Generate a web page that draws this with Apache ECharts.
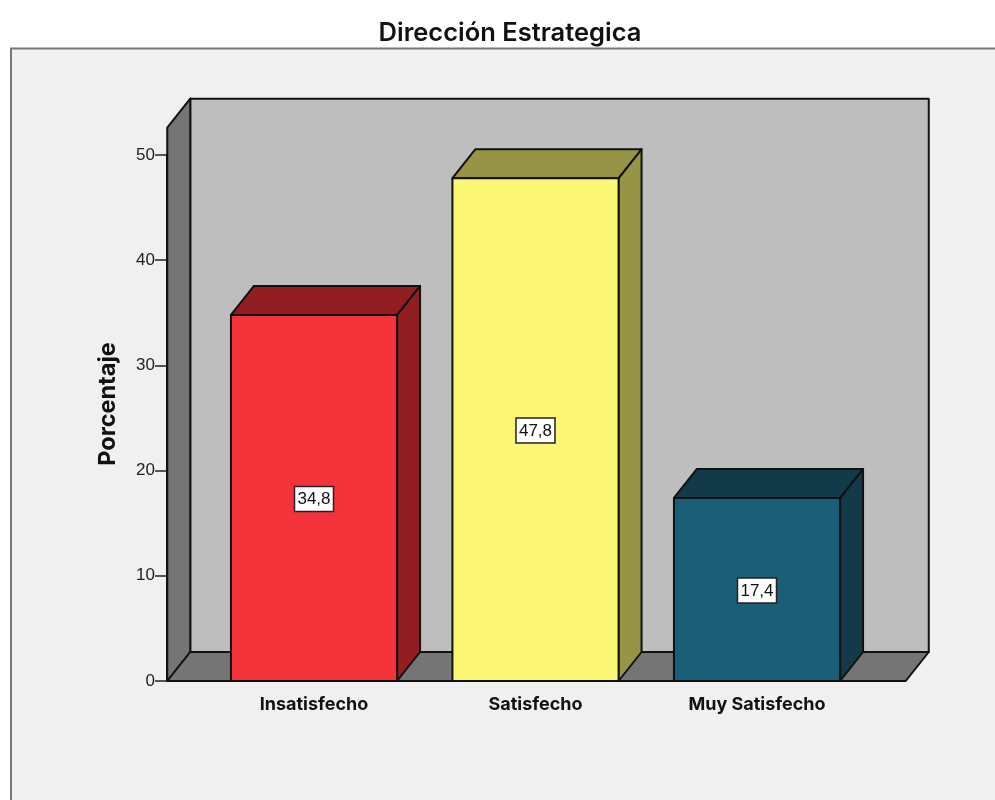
<!DOCTYPE html>
<html>
<head>
<meta charset="utf-8">
<style>html,body{margin:0;padding:0;background:#fff}#c{width:995px;height:800px}</style>
<script src="https://cdn.jsdelivr.net/npm/echarts@6/dist/echarts.min.js"></script>
</head>
<body>
<div id="c"></div>
<script>
const titleText = 'Dirección Estrategica';
const axisTitle = 'Porcentaje';
const categories = ['Insatisfecho', 'Satisfecho', 'Muy Satisfecho'];
const percentages = [34.8, 47.8, 17.4];
const frontColors = ['#f33339', '#fbf674', '#1b5e78'];
const shadeColors = ['#921e22', '#989445', '#123a48'];
const wallCeiling = 52.6;

const font = '"Liberation Sans", Arial, sans-serif';
const wideFont = 'Inter, "Liberation Sans", sans-serif';
const ink = '#111111';
const depthX = 23, depthY = 29;
const barShare = 0.75;
const floorLeftGap = 36, floorRightGap = 38;

function poly(points, fill) {
  return { type: 'polygon', shape: { points }, style: { fill, stroke: ink, lineWidth: 2, lineJoin: 'round' } };
}

// Side wall, back wall and floor of the box behind the bars
function renderBox(params, api) {
  const cs = params.coordSys;
  const base = api.coord([0, 0])[1];
  const top = api.coord([0, wallCeiling])[1];
  const left = cs.x - floorLeftGap;
  const right = cs.x + cs.width + floorRightGap;
  return {
    type: 'group',
    children: [
      poly([[left + depthX, top - depthY], [right + depthX, top - depthY], [right + depthX, base - depthY], [left + depthX, base - depthY]], '#bebebe'),
      poly([[left, top], [left + depthX, top - depthY], [left + depthX, base - depthY], [left, base]], '#757575'),
      poly([[left, base], [left + depthX, base - depthY], [right + depthX, base - depthY], [right, base]], '#757575')
    ]
  };
}

// One extruded bar with its boxed value label on the front face
function renderBar(params, api) {
  const i = api.value(0);
  const v = api.value(1);
  const [cx, yTop] = api.coord([i, v]);
  const yBase = api.coord([i, 0])[1];
  const w = api.size([1, 0])[0] * barShare;
  const x0 = cx - w / 2, x1 = cx + w / 2;
  const midY = (yTop + yBase) / 2;
  const label = String(v).replace('.', ',');
  return {
    type: 'group',
    children: [
      poly([[x1, yTop], [x1 + depthX, yTop - depthY], [x1 + depthX, yBase - depthY], [x1, yBase]], shadeColors[i]),
      poly([[x0, yTop], [x0 + depthX, yTop - depthY], [x1 + depthX, yTop - depthY], [x1, yTop]], shadeColors[i]),
      poly([[x0, yTop], [x1, yTop], [x1, yBase], [x0, yBase]], frontColors[i]),
      { type: 'rect', shape: { x: cx - 19.5, y: midY - 11.5, width: 39, height: 25 },
        style: { fill: '#ffffff', stroke: '#222', lineWidth: 1.5 } },
      { type: 'text', x: cx, y: midY + 1.5,
        style: { text: label, fill: '#111', font: '17px ' + font, align: 'center', verticalAlign: 'middle' } }
    ]
  };
}

const chart = echarts.init(document.getElementById('c'), null, { renderer: 'canvas' });
chart.setOption({
  animation: false,
  backgroundColor: '#ffffff',
  title: {
    text: titleText, left: 505, top: 15, textAlign: 'center',
    textStyle: { fontFamily: wideFont, fontSize: 25.5, fontWeight: 600, color: '#111' }
  },
  grid: { left: 203.25, width: 664.5, top: 155, height: 526, containLabel: false },
  xAxis: {
    type: 'category',
    data: categories,
    axisLine: { lineStyle: { color: ink, width: 2 } },
    axisTick: { alignWithLabel: true, length: 10, lineStyle: { color: '#222', width: 1.5 } },
    axisLabel: { color: '#111', fontFamily: wideFont, fontSize: 18, fontWeight: 'bold', margin: 15 },
    z: 5
  },
  yAxis: {
    type: 'value', min: 0, max: 50, interval: 10,
    position: 'left', offset: 36.25,
    axisLine: { show: true, lineStyle: { color: ink, width: 2 } },
    axisTick: { show: true, length: 12, lineStyle: { color: '#222', width: 1.5 } },
    axisLabel: { color: '#222', fontFamily: font, fontSize: 17, margin: 12, padding: [12, 0, 0, 0] },
    splitLine: { show: false }
  },
  graphic: [
    { type: 'rect', silent: true, z: -10, shape: { x: 11, y: 48.5, width: 1000, height: 800 },
      style: { fill: '#f0f0f0', stroke: '#777777', lineWidth: 2 } },
    { type: 'text', z: 10, rotation: Math.PI / 2, x: 108, y: 404,
      style: { text: axisTitle, fill: '#111', font: 'bold 23.5px ' + wideFont, align: 'center', verticalAlign: 'middle' } }
  ],
  series: [
    { type: 'custom', name: 'box', renderItem: renderBox, data: [[0]], encode: { x: 0 }, silent: true, z: 1 },
    { type: 'custom', name: axisTitle, renderItem: renderBar,
      data: percentages.map((v, i) => [i, v]), encode: { x: 0, y: 1 }, z: 2 }
  ]
});
</script>
</body>
</html>
